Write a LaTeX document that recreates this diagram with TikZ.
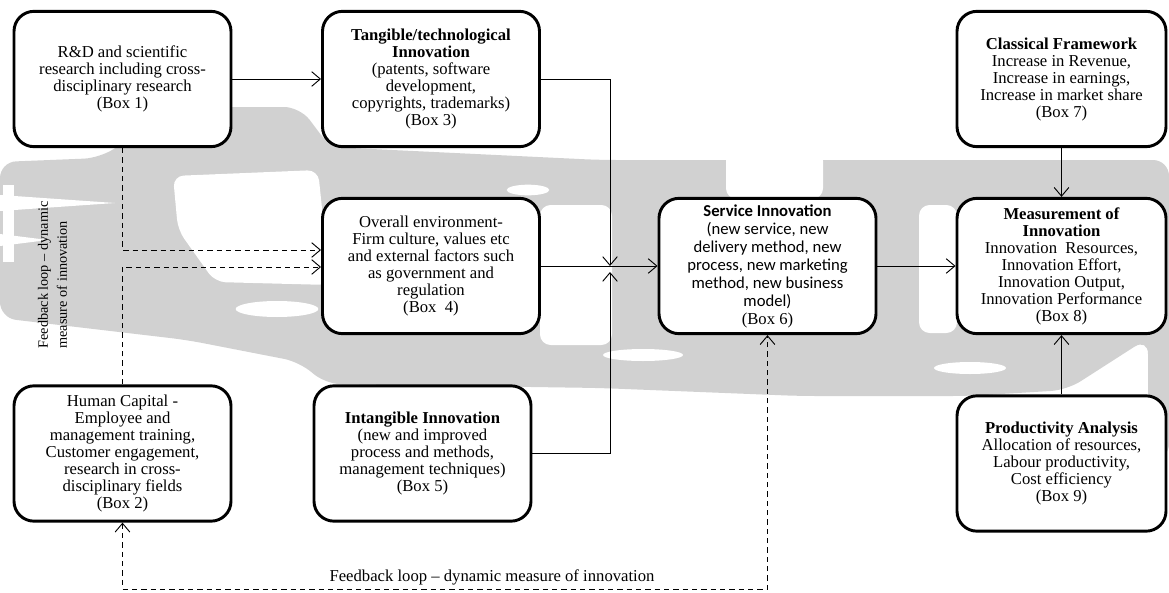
\documentclass[tikz,border=0pt]{standalone}
\usepackage{fontspec}
\setmainfont{Liberation Serif}
\newfontfamily\calfont{Carlito}
\usetikzlibrary{arrows.meta,calc}
\tikzset{
  box/.style={draw, line width=2.2pt, rounded corners=15pt, fill=white, align=center,
    inner sep=2pt, minimum width=162.75pt, minimum height=101.5pt,
    font=\fontsize{12.5pt}{12.75pt}\selectfont},
  rbox/.style={box, minimum width=156.75pt},
  tip/.tip={Straight Barb[length=6.5pt,width=11pt,line width=0.7pt]},
  conn/.style={line width=0.7pt, -tip},
  dconn/.style={conn, dash pattern=on 4pt off 3pt},
  wm/.style={fill=black!18, rounded corners=12pt},
  hole/.style={fill=white, rounded corners=8pt},
  lbl/.style={font=\fontsize{12.5pt}{12.75pt}\selectfont},
}
\begin{document}
\begin{tikzpicture}[x=0.75pt,y=-0.75pt]
\useasboundingbox (0,0) rectangle (1169,592);
\fill[white] (0,0) rectangle (1169,592);
% watermark (background)
\fill[wm] (0,162) -- (100,158) -- (150,125) -- (200,107) -- (300,107) -- (330,147)
  -- (600,160) -- (1169,160) -- (1169,460) -- (1148,460) -- (1148,338)
  -- (1067,390) -- (968,396) -- (800,396) -- (600,388) -- (325,384) -- (300,362)
  -- (187,340) -- (0,318) -- cycle;
\fill[hole] (173,176) -- (318,170) -- (330,285) -- (215,282) -- (178,230) -- cycle;
\fill[white] (277,309) ellipse [x radius=31pt, y radius=6pt];
\fill[hole] (540,205) rectangle (612,345);
\fill[hole] (726,150) rectangle (823,199);
\fill[hole] (919,205) rectangle (957,333);
\fill[white] (528,190) ellipse [x radius=16pt, y radius=4pt];
\fill[white] (643,355) ellipse [x radius=30pt, y radius=4.5pt];
\fill[white] (970,368) ellipse [x radius=27pt, y radius=4.5pt];
\fill[white] (0,195) -- (115,203) -- (0,211) -- cycle;
\fill[white] (3,185) rectangle (14,262);
\fill[white] (0,234) -- (48,240) -- (0,246) -- cycle;

% boxes
\node[box] (b1) at (122.5,79) {R\&D and scientific\\research including cross-\\disciplinary research\\(Box 1)};
\node[box] (b3) at (431,79) {\textbf{Tangible/technological}\\\textbf{Innovation}\\(patents, software\\development,\\copyrights, trademarks)\\(Box 3)};
\node[box] (b4) at (431,266) {Overall environment-\\Firm culture, values etc\\and external factors such\\as government and\\regulation\\(Box\ \ 4)};
\node[box] (b2) at (122.5,453.5) {Human Capital -\\Employee and\\management training,\\Customer engagement,\\research in cross-\\disciplinary fields\\(Box 2)};
\node[box] (b5) at (422.5,453.5) {\textbf{Intangible Innovation}\\(new and improved\\process and methods,\\management techniques)\\(Box 5)};
\node[box, font=\fontsize{12.5pt}{13.5pt}\calfont] (b6) at (767.5,266) {\textbf{Service Innovation}\\(new service, new\\delivery method, new\\process, new marketing\\method, new business\\model)\\\rmfamily (Box 6)};
\node[rbox] (b7) at (1061.5,79) {\textbf{Classical Framework}\\Increase in Revenue,\\Increase in earnings,\\Increase in market share\\(Box 7)};
\node[rbox] (b8) at (1061.5,266) {\textbf{Measurement of}\\\textbf{Innovation}\\Innovation\ \ Resources,\\Innovation Effort,\\Innovation Output,\\Innovation Performance\\(Box 8)};
\node[rbox] (b9) at (1061.5,463.5) {\textbf{Productivity Analysis}\\Allocation of resources,\\Labour productivity,\\Cost efficiency\\(Box 9)};

% junction points
\coordinate (J1) at (610,266);
\coordinate (J2) at (610,272);
\coordinate (fb) at (400,589);

% connectors
\draw[conn] (b1.east) -- (b3.west);
\draw[conn] (b3.east) -| (J1);
\draw[conn] (b5.east) -| (J2);
\draw[conn] (b4.east) -- (b6.west);
\draw[conn] (b6.east) -- (b8.west);
\draw[conn] (b7.south) -- (b8.north);
\draw[conn] (b9.north) -- (b8.south);
\draw[dconn] (b1.south) |- ($(b4.west)+(0,-16)$);
\draw[dconn] (b2.north) |- ($(b4.west)+(0,1)$);
\draw[dconn, tip-tip] (b2.south) |- (fb) -| (b6.south);

% labels
\node[lbl] (fl2) at (492,577) {Feedback loop -- dynamic measure of innovation};
\node[font=\fontsize{10.7pt}{14.25pt}\selectfont, rotate=90, align=left] (fl1) at (52.5,275) {Feedback loop -- dynamic\\measure of innovation};
\end{tikzpicture}
\end{document}
